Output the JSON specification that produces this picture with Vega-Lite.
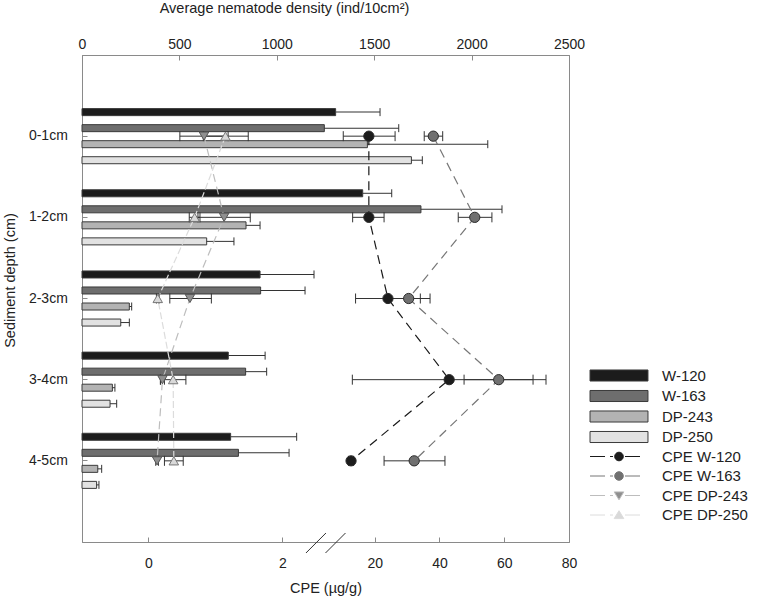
{
  "$schema": "https://vega.github.io/schema/vega-lite/v6.json",
  "width": 487,
  "height": 487,
  "autosize": {"type": "none"},
  "padding": {"left": 82, "top": 55, "right": 188, "bottom": 58},
  "background": "white",
  "config": {
    "font": "Liberation Sans",
    "view": {"stroke": "#8a8a8a", "strokeWidth": 1},
    "axis": {
      "labelFont": "Liberation Sans", "labelFontSize": 14, "labelColor": "#222",
      "titleFont": "Liberation Sans", "titleFontSize": 14.5, "titleFontWeight": "normal", "titleColor": "#222",
      "domainColor": "#8a8a8a", "tickColor": "#8a8a8a", "grid": false, "tickSize": -5, "labelFlush": false
    },
    "legend": {
      "orient": "none", "legendX": 529.5, "legendY": 313,
      "symbolSize": 144, "symbolStrokeWidth": 1, "symbolOpacity": 1,
      "labelFont": "Liberation Sans", "labelFontSize": 15, "labelColor": "#222",
      "labelOffset": 35.5, "rowPadding": 3.5, "title": null
    }
  },
  "datasets": {
    "dens": [
      {"depth": "0-1cm", "station": "W-120", "key": "W-120", "dens": 1302, "hi": 1530},
      {"depth": "0-1cm", "station": "W-163", "key": "W-163", "dens": 1244, "hi": 1626},
      {"depth": "0-1cm", "station": "DP-243", "key": "DP-243", "dens": 1465, "hi": 2083},
      {"depth": "0-1cm", "station": "DP-250", "key": "DP-250", "dens": 1691, "hi": 1747},
      {"depth": "1-2cm", "station": "W-120", "key": "W-120", "dens": 1441, "hi": 1590},
      {"depth": "1-2cm", "station": "W-163", "key": "W-163", "dens": 1740, "hi": 2156},
      {"depth": "1-2cm", "station": "DP-243", "key": "DP-243", "dens": 842, "hi": 914},
      {"depth": "1-2cm", "station": "DP-250", "key": "DP-250", "dens": 640, "hi": 780},
      {"depth": "2-3cm", "station": "W-120", "key": "W-120", "dens": 914, "hi": 1191},
      {"depth": "2-3cm", "station": "W-163", "key": "W-163", "dens": 917, "hi": 1145},
      {"depth": "2-3cm", "station": "DP-243", "key": "DP-243", "dens": 243, "hi": 255},
      {"depth": "2-3cm", "station": "DP-250", "key": "DP-250", "dens": 199, "hi": 243},
      {"depth": "3-4cm", "station": "W-120", "key": "W-120", "dens": 751, "hi": 940},
      {"depth": "3-4cm", "station": "W-163", "key": "W-163", "dens": 840, "hi": 948},
      {"depth": "3-4cm", "station": "DP-243", "key": "DP-243", "dens": 156, "hi": 169},
      {"depth": "3-4cm", "station": "DP-250", "key": "DP-250", "dens": 144, "hi": 178},
      {"depth": "4-5cm", "station": "W-120", "key": "W-120", "dens": 763, "hi": 1102},
      {"depth": "4-5cm", "station": "W-163", "key": "W-163", "dens": 803, "hi": 1063},
      {"depth": "4-5cm", "station": "DP-243", "key": "DP-243", "dens": 81, "hi": 101},
      {"depth": "4-5cm", "station": "DP-250", "key": "DP-250", "dens": 75, "hi": 87}
    ],
    "cpe": [
      {"depth": "0-1cm", "station": "W-120", "key": "CPE W-120", "cpe": 18.2, "lo": 10.3, "hi": 26.3},
      {"depth": "0-1cm", "station": "W-163", "key": "CPE W-163", "cpe": 38.1, "lo": 35.3, "hi": 41.0},
      {"depth": "0-1cm", "station": "DP-243", "key": "CPE DP-243", "cpe": 0.83, "lo": 0.47, "hi": 1.19},
      {"depth": "0-1cm", "station": "DP-250", "key": "CPE DP-250", "cpe": 1.15, "lo": 0.82, "hi": 1.49},
      {"depth": "1-2cm", "station": "W-120", "key": "CPE W-120", "cpe": 18.2, "lo": 13.2, "hi": 22.9},
      {"depth": "1-2cm", "station": "W-163", "key": "CPE W-163", "cpe": 50.9, "lo": 45.8, "hi": 56.2},
      {"depth": "1-2cm", "station": "DP-243", "key": "CPE DP-243", "cpe": 1.13, "lo": 0.74, "hi": 1.52},
      {"depth": "1-2cm", "station": "DP-250", "key": "CPE DP-250", "cpe": 0.69, "lo": 0.61, "hi": 0.77},
      {"depth": "2-3cm", "station": "W-120", "key": "CPE W-120", "cpe": 24.1, "lo": 14.1, "hi": 34.1},
      {"depth": "2-3cm", "station": "W-163", "key": "CPE W-163", "cpe": 30.5, "lo": 23.9, "hi": 37.1},
      {"depth": "2-3cm", "station": "DP-243", "key": "CPE DP-243", "cpe": 0.62, "lo": 0.32, "hi": 0.94},
      {"depth": "2-3cm", "station": "DP-250", "key": "CPE DP-250", "cpe": 0.14, "lo": 0.12, "hi": 0.16},
      {"depth": "3-4cm", "station": "W-120", "key": "CPE W-120", "cpe": 43.0, "lo": 13.1, "hi": 72.9},
      {"depth": "3-4cm", "station": "W-163", "key": "CPE W-163", "cpe": 58.3, "lo": 47.6, "hi": 68.9},
      {"depth": "3-4cm", "station": "DP-243", "key": "CPE DP-243", "cpe": 0.21, "lo": 0.18, "hi": 0.24},
      {"depth": "3-4cm", "station": "DP-250", "key": "CPE DP-250", "cpe": 0.37, "lo": 0.18, "hi": 0.56},
      {"depth": "4-5cm", "station": "W-120", "key": "CPE W-120", "cpe": 12.7, "lo": 11.9, "hi": 13.5},
      {"depth": "4-5cm", "station": "W-163", "key": "CPE W-163", "cpe": 32.2, "lo": 22.9, "hi": 41.7},
      {"depth": "4-5cm", "station": "DP-243", "key": "CPE DP-243", "cpe": 0.13, "lo": 0.11, "hi": 0.15},
      {"depth": "4-5cm", "station": "DP-250", "key": "CPE DP-250", "cpe": 0.38, "lo": 0.24, "hi": 0.52}
    ],
    "keys": [
      {"key": "W-120"}, {"key": "W-163"}, {"key": "DP-243"}, {"key": "DP-250"},
      {"key": "CPE W-120"}, {"key": "CPE W-163"}, {"key": "CPE DP-243"}, {"key": "CPE DP-250"}
    ],
    "breaks": [
      {"b": 2.5},
      {"b": 7.9}
    ]
  },
  "layer": [
    {
      "data": {"name": "dens"},
      "layer": [
        {
          "mark": {"type": "bar", "stroke": "#3a3a3a", "strokeWidth": 1},
          "encoding": {
            "y": {
              "field": "depth", "type": "nominal",
              "scale": {"domain": ["0-1cm", "1-2cm", "2-3cm", "3-4cm", "4-5cm"], "paddingInner": 0.21, "paddingOuter": 0.605},
              "axis": {"title": "Sediment depth (cm)", "labelPadding": 19.7, "titleX": -72, "titleY": 225, "titleBaseline": "middle", "titleAngle": -90}
            },
            "yOffset": {
              "field": "station", "type": "nominal",
              "scale": {"domain": ["W-120", "W-163", "DP-243", "DP-250"], "paddingInner": 0.5625, "paddingOuter": 0.28125}
            },
            "x": {
              "field": "dens", "type": "quantitative",
              "scale": {"domain": [0, 2500], "nice": false, "zero": true},
              "axis": {"orient": "top", "values": [0, 500, 1000, 1500, 2000, 2500], "format": "d", "labelFlush": false, "labelPadding": 8.5, "title": "Average nematode density (ind/10cm²)", "titleX": 202, "titleY": -47, "titleBaseline": "middle"}
            },
            "fill": {
              "field": "key", "type": "nominal",
              "scale": {
                "domain": ["W-120", "W-163", "DP-243", "DP-250", "CPE W-120", "CPE W-163", "CPE DP-243", "CPE DP-250"],
                "range": ["#1c1c1c", "#6e6e6e", "#b3b3b3", "#e2e2e2", "#1c1c1c", "#707070", "#8f8f8f", "#d9d9d9"]
              }
            }
          }
        },
        {
          "mark": {"type": "bar", "height": 1, "color": "#333"},
          "encoding": {
            "y": {"field": "depth", "type": "nominal"},
            "yOffset": {"field": "station", "type": "nominal"},
            "x": {"field": "dens", "type": "quantitative"},
            "x2": {"field": "hi"}
          }
        },
        {
          "mark": {"type": "point", "shape": "M0,-1L0,1", "size": 64, "stroke": "#333", "strokeWidth": 1, "filled": false, "opacity": 1},
          "encoding": {
            "y": {"field": "depth", "type": "nominal"},
            "yOffset": {"field": "station", "type": "nominal"},
            "x": {"field": "hi", "type": "quantitative"}
          }
        }
      ]
    },
    {
      "data": {"name": "cpe"},
      "layer": [
        {
          "mark": {"type": "line", "strokeWidth": 1.2},
          "encoding": {
            "x": {
              "field": "cpe", "type": "quantitative",
              "scale": {"type": "linear", "domain": [-0.99, 2.65, 4.97, 80], "range": [0, 244, 244, 487], "nice": false, "zero": false},
              "axis": {"orient": "bottom", "values": [0, 2, 20, 40, 60, 80], "format": "d", "labelFlush": false, "labelPadding": 19.7, "title": "CPE (µg/g)", "titleY": 46, "titleBaseline": "middle"}
            },
            "y": {"field": "depth", "type": "nominal"},
            "stroke": {
              "field": "key", "type": "nominal",
              "scale": {
                "domain": ["W-120", "W-163", "DP-243", "DP-250", "CPE W-120", "CPE W-163", "CPE DP-243", "CPE DP-250"],
                "range": ["#3a3a3a", "#3a3a3a", "#3a3a3a", "#3a3a3a", "#1a1a1a", "#777777", "#bdbdbd", "#dcdcdc"]
              }
            },
            "strokeDash": {
              "field": "station", "type": "nominal",
              "scale": {"domain": ["W-120", "W-163", "DP-243", "DP-250"], "range": [[9, 6], [9, 6], [8, 5], [7, 3]]},
              "legend": null
            },
            "order": {"field": "depth"}
          }
        },
        {
          "mark": {"type": "rule", "color": "#333", "strokeWidth": 1},
          "encoding": {
            "x": {"field": "lo", "type": "quantitative"},
            "x2": {"field": "hi"},
            "y": {"field": "depth", "type": "nominal"}
          }
        },
        {
          "mark": {"type": "point", "shape": "M0,-1L0,1", "size": 100, "stroke": "#333", "strokeWidth": 1, "filled": false, "opacity": 1},
          "encoding": {
            "x": {"field": "lo", "type": "quantitative"},
            "y": {"field": "depth", "type": "nominal"}
          }
        },
        {
          "mark": {"type": "point", "shape": "M0,-1L0,1", "size": 100, "stroke": "#333", "strokeWidth": 1, "filled": false, "opacity": 1},
          "encoding": {
            "x": {"field": "hi", "type": "quantitative"},
            "y": {"field": "depth", "type": "nominal"}
          }
        },
        {
          "transform": [{"filter": {"field": "station", "oneOf": ["W-120", "W-163"]}}],
          "mark": {"type": "point", "shape": "circle", "size": 105, "filled": true, "stroke": "#2a2a2a", "strokeWidth": 1, "opacity": 1},
          "encoding": {
            "x": {"field": "cpe", "type": "quantitative"},
            "y": {"field": "depth", "type": "nominal"},
            "fill": {"field": "key", "type": "nominal"}
          }
        },
        {
          "transform": [{"filter": {"field": "station", "equal": "DP-243"}}],
          "mark": {"type": "point", "shape": "triangle-down", "size": 90, "filled": true, "stroke": "#555", "strokeWidth": 1, "opacity": 1},
          "encoding": {
            "x": {"field": "cpe", "type": "quantitative"},
            "y": {"field": "depth", "type": "nominal"},
            "fill": {"field": "key", "type": "nominal"}
          }
        },
        {
          "transform": [{"filter": {"field": "station", "equal": "DP-250"}}],
          "mark": {"type": "point", "shape": "triangle-up", "size": 90, "filled": true, "stroke": "#777", "strokeWidth": 1, "opacity": 1},
          "encoding": {
            "x": {"field": "cpe", "type": "quantitative"},
            "y": {"field": "depth", "type": "nominal"},
            "fill": {"field": "key", "type": "nominal"}
          }
        },
        {
          "data": {"name": "breaks"},
          "mark": {"type": "point", "shape": "M-1,1L1,-1", "size": 400, "stroke": "#333", "strokeWidth": 1, "filled": false, "opacity": 1, "y": {"expr": "height+1"}},
          "encoding": {
            "x": {"field": "b", "type": "quantitative"}
          }
        },
        {
          "data": {"name": "keys"},
          "mark": {"type": "point", "filled": true, "opacity": 0},
          "encoding": {
            "fill": {"field": "key", "type": "nominal", "legend": {"title": null}},
            "stroke": {"field": "key", "type": "nominal", "legend": {"title": null}},
            "shape": {
              "field": "key", "type": "nominal",
              "scale": {
                "domain": ["W-120", "W-163", "DP-243", "DP-250", "CPE W-120", "CPE W-163", "CPE DP-243", "CPE DP-250"],
                "range": [
                  "M-4.83,-0.92H4.83V0.92H-4.83Z",
                  "M-4.83,-0.92H4.83V0.92H-4.83Z",
                  "M-4.83,-0.92H4.83V0.92H-4.83Z",
                  "M-4.83,-0.92H4.83V0.92H-4.83Z",
                  "M-4.83,0H-2.33M-1.5,0H-1.0M1.0,0H3.5M-0.72,0A0.72,0.72,0,1,0,0.72,0A0.72,0.72,0,1,0,-0.72,0Z",
                  "M-4.83,0H-2.33M-1.5,0H-1.0M1.0,0H3.5M-0.72,0A0.72,0.72,0,1,0,0.72,0A0.72,0.72,0,1,0,-0.72,0Z",
                  "M-4.83,0H-2.33M-1.5,0H-1.0M1.0,0H3.5M-0.8,-0.6L0.8,-0.6L0,0.72Z",
                  "M-4.83,0H-2.33M-1.5,0H-1.0M1.0,0H3.5M-0.8,0.6L0.8,0.6L0,-0.72Z"
                ]
              },
              "legend": {"title": null}
            }
          }
        }
      ]
    }
  ],
  "resolve": {"scale": {"x": "independent"}, "axis": {"x": "independent"}}
}
